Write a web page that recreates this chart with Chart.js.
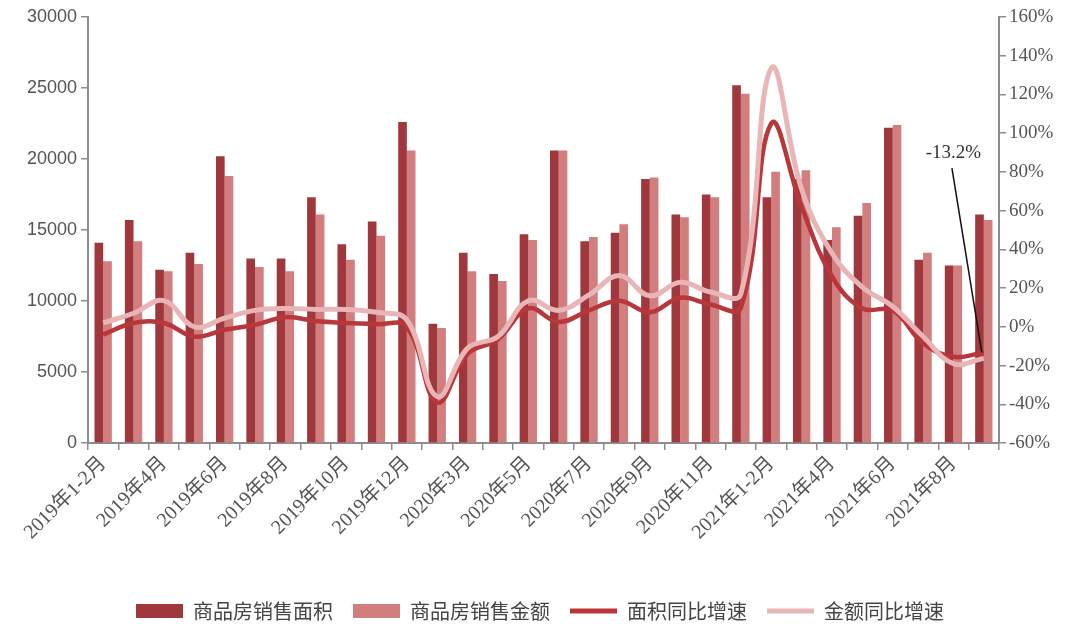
<!DOCTYPE html>
<html>
<head>
<meta charset="utf-8">
<script src="https://cdn.jsdelivr.net/npm/chart.js@4.4.1/dist/chart.umd.min.js"></script>
<style>
    html, body { margin: 0; padding: 0; background: #ffffff; }
    #wrap { width: 1080px; height: 635px; position: relative; }
</style>
</head>
<body>
<div id="wrap"><canvas id="myChart" width="1080" height="635"></canvas></div>
<script>
// months shown on the x axis
const months = [
    '2019年1-2月', '2019年3月', '2019年4月', '2019年5月', '2019年6月', '2019年7月',
    '2019年8月', '2019年9月', '2019年10月', '2019年11月', '2019年12月',
    '2020年1-2月', '2020年3月', '2020年4月', '2020年5月', '2020年6月', '2020年7月',
    '2020年8月', '2020年9月', '2020年10月', '2020年11月', '2020年12月',
    '2021年1-2月', '2021年3月', '2021年4月', '2021年5月', '2021年6月', '2021年7月',
    '2021年8月', '2021年9月'
];

// 商品房销售面积 (left axis)
const salesArea = [
    14100, 15700, 12200, 13400, 20200, 13000, 13000, 17300, 14000, 15600, 22600,
    8400, 13400, 11900, 14700, 20600, 14200, 14800, 18600, 16100, 17500, 25200,
    17300, 18600, 14300, 16000, 22200, 12900, 12500, 16100
];

// 商品房销售金额 (left axis)
const salesAmount = [
    12800, 14200, 12100, 12600, 18800, 12400, 12100, 16100, 12900, 14600, 20600,
    8100, 12100, 11400, 14300, 20600, 14500, 15400, 18700, 15900, 17300, 24600,
    19100, 19200, 15200, 16900, 22400, 13400, 12500, 15700
];

// 面积同比增速 (right axis, %)
const areaGrowth = [
    -4, 2, 2, -5, -1.5, 1, 5, 3, 2, 1.4, 0,
    -39, -14, -6.5, 9.5, 2.5, 8.5, 13.5, 7.5, 15, 11.5, 10,
    105, 62, 26, 9.5, 8.5, -8.5, -15.5, -13.2
];

// 金额同比增速 (right axis, %)
const amountGrowth = [
    2, 7, 13.5, 0, 4.5, 8.5, 9.5, 9, 9, 7.5, 3.5,
    -36, -11, -5, 13.5, 8.5, 16.5, 26.5, 16, 23, 18, 17,
    133.5, 71, 38, 20.5, 10.5, -5, -19, -16.3
];

const leftTicks = { min: 0, max: 30000, step: 5000 };
const rightTicks = { min: -60, max: 160, step: 20 };

// callout on the last point of the area growth line
const callout = { text: '-13.2%', index: 29, value: -13.2, labelIndex: 28, labelValue: 90, startIndex: 27.95, startValue: 82 };

document.addEventListener('DOMContentLoaded', function () {
    const axisColor = '#8c8c8c';
    const tickColor = '#555555';

    const calloutPlugin = {
        id: 'callout',
        afterDatasetsDraw(chart) {
            const x = chart.scales.x;
            const y2 = chart.scales.y2;
            const ctx = chart.ctx;
            ctx.save();
            ctx.strokeStyle = '#111111';
            ctx.lineWidth = 1.5;
            ctx.beginPath();
            ctx.moveTo(x.getPixelForValue(callout.startIndex), y2.getPixelForValue(callout.startValue));
            ctx.lineTo(x.getPixelForValue(callout.index) - 2, y2.getPixelForValue(callout.value));
            ctx.stroke();
            ctx.fillStyle = '#333333';
            ctx.font = '19px "Liberation Serif", serif';
            ctx.textAlign = 'center';
            ctx.textBaseline = 'middle';
            ctx.fillText(callout.text, x.getPixelForValue(callout.labelIndex), y2.getPixelForValue(callout.labelValue));
            ctx.restore();
        }
    };

    const ctx = document.getElementById('myChart').getContext('2d');
    new Chart(ctx, {
        type: 'bar',
        data: {
            labels: months,
            datasets: [
                {
                    label: '商品房销售面积',
                    data: salesArea,
                    backgroundColor: '#a0373c',
                    borderWidth: 0,
                    yAxisID: 'y',
                    order: 3
                },
                {
                    label: '商品房销售金额',
                    data: salesAmount,
                    backgroundColor: '#d27d7e',
                    borderWidth: 0,
                    yAxisID: 'y',
                    order: 4
                },
                {
                    type: 'line',
                    label: '面积同比增速',
                    data: areaGrowth,
                    borderColor: '#b9363b',
                    backgroundColor: '#b9363b',
                    borderWidth: 4.5,
                    pointRadius: 0,
                    tension: 0.4,
                    yAxisID: 'y2',
                    order: 2
                },
                {
                    type: 'line',
                    label: '金额同比增速',
                    data: amountGrowth,
                    borderColor: '#e8b6b6',
                    backgroundColor: '#e8b6b6',
                    borderWidth: 5,
                    pointRadius: 0,
                    tension: 0.4,
                    yAxisID: 'y2',
                    order: 1
                }
            ]
        },
        options: {
            responsive: false,
            animation: false,
            layout: { padding: { top: 17, right: 0, left: 0, bottom: 4 } },
            datasets: {
                bar: { categoryPercentage: 0.57, barPercentage: 1.0 }
            },
            scales: {
                x: {
                    grid: { display: true, drawOnChartArea: false, color: axisColor, lineWidth: 1.5, tickLength: 7, offset: true },
                    border: { color: axisColor, width: 2 },
                    ticks: {
                        autoSkip: false,
                        maxRotation: 45,
                        minRotation: 45,
                        color: tickColor,
                        font: { family: '"Liberation Serif", "Noto Sans CJK SC", serif', size: 20 },
                        padding: 2,
                        callback: function (value, index) {
                            return index % 2 === 0 ? months[index] : '';
                        }
                    },
                    afterFit: function (scale) { scale.height = 138; }
                },
                y: {
                    position: 'left',
                    min: leftTicks.min,
                    max: leftTicks.max,
                    grid: { drawOnChartArea: false, color: axisColor, lineWidth: 1.5, tickLength: 7 },
                    border: { color: axisColor, width: 2 },
                    ticks: {
                        stepSize: leftTicks.step,
                        color: tickColor,
                        padding: 4,
                        font: { family: '"Liberation Sans", Arial, sans-serif', size: 18 },
                        callback: function (value) { return String(value); }
                    },
                    afterFit: function (scale) { scale.width = 88; }
                },
                y2: {
                    position: 'right',
                    min: rightTicks.min,
                    max: rightTicks.max,
                    grid: { drawOnChartArea: false, color: axisColor, lineWidth: 1.5, tickLength: 7 },
                    border: { color: axisColor, width: 2 },
                    ticks: {
                        stepSize: rightTicks.step,
                        color: tickColor,
                        padding: 3,
                        font: { family: '"Liberation Serif", serif', size: 19 },
                        callback: function (value) { return value + '%'; }
                    },
                    afterFit: function (scale) { scale.width = 81; }
                }
            },
            plugins: {
                legend: {
                    display: true,
                    position: 'bottom',
                    labels: {
                        usePointStyle: true,
                        pointStyleWidth: 47,
                        boxHeight: 14,
                        padding: 20,
                        color: '#444444',
                        font: { family: '"Noto Sans CJK SC", sans-serif', size: 20 },
                        sort: (a, b) => a.datasetIndex - b.datasetIndex,
                        generateLabels: function (chart) {
                            const items = Chart.defaults.plugins.legend.labels.generateLabels(chart);
                            items.forEach(item => {
                                const ds = chart.data.datasets[item.datasetIndex];
                                if (ds.type === 'line') {
                                    item.pointStyle = 'line';
                                    item.strokeStyle = ds.borderColor;
                                    item.lineWidth = 5;
                                } else {
                                    item.pointStyle = 'rect';
                                    item.lineWidth = 0;
                                }
                            });
                            return items;
                        }
                    }
                },
                tooltip: { enabled: false }
            }
        },
        plugins: [calloutPlugin]
    });
});
</script>
</body>
</html>
